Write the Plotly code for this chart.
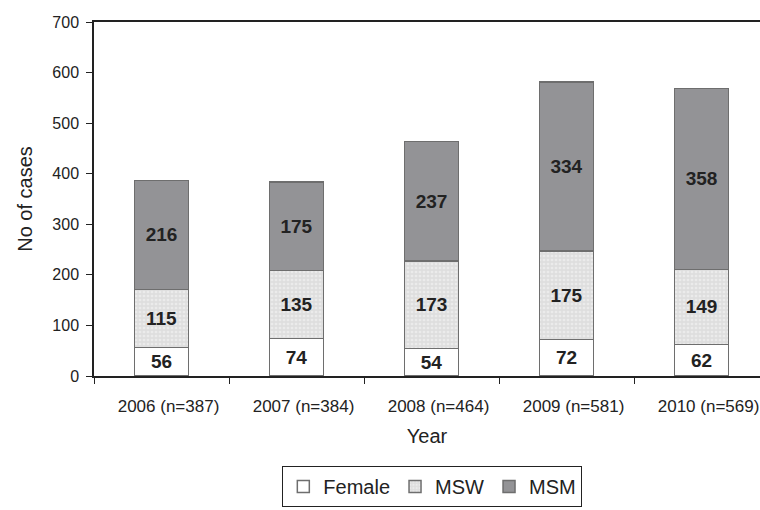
import plotly.graph_objects as go

categories = ["2006 (n=387)", "2007 (n=384)", "2008 (n=464)", "2009 (n=581)", "2010 (n=569)"]
female = [56, 74, 54, 72, 62]
msw = [115, 135, 173, 175, 149]
msm = [216, 175, 237, 334, 358]

font = "Liberation Sans, Arial, sans-serif"
line_col = "#6e6e6e"
lab_font = dict(family=font, size=19, color="#222222")

fig = go.Figure()
fig.add_trace(go.Bar(
    name="Female", x=categories, y=female,
    marker=dict(color="white", line=dict(color=line_col, width=1.5)),
    text=female, textposition="inside", insidetextanchor="middle",
    texttemplate="<b>%{text}</b>", textfont=lab_font,
))
fig.add_trace(go.Bar(
    name="MSW", x=categories, y=msw,
    marker=dict(color="#dedede", line=dict(color=line_col, width=1.5),
                pattern=dict(shape=".", fgcolor="#f7f7f7", size=4, solidity=0.35)),
    text=msw, textposition="inside", insidetextanchor="middle",
    texttemplate="<b>%{text}</b>", textfont=lab_font,
))
fig.add_trace(go.Bar(
    name="MSM", x=categories, y=msm,
    marker=dict(color="#939396", line=dict(color=line_col, width=1.5)),
    text=msm, textposition="inside", insidetextanchor="middle",
    texttemplate="<b>%{text}</b>", textfont=lab_font,
))

fig.update_layout(
    barmode="stack",
    bargap=0.6,
    width=760, height=510,
    margin=dict(l=94, r=0, t=22, b=134),
    paper_bgcolor="white", plot_bgcolor="white",
    font=dict(family=font, color="#222222"),
    uniformtext=dict(minsize=19, mode="show"),
    showlegend=True,
    legend=dict(
        orientation="h", x=0.508, xanchor="center",
        yref="container", y=0.006, yanchor="bottom",
        bordercolor="#222222", borderwidth=1, font=dict(size=20, family=font),
        itemwidth=30, tracegroupgap=0, traceorder="normal",
    ),
    xaxis=dict(
        range=[-0.5, 4.433], showline=True, linecolor="#222222", linewidth=1.5,
        mirror=True, ticks="outside", tickson="boundaries", ticklen=6,
        tickcolor="#222222", tickfont=dict(size=17), showgrid=False,
        automargin=False, ticklabelstandoff=14, ticklabelshift=7,
        title=dict(text="Year", font=dict(size=20), standoff=14),
    ),
    yaxis=dict(
        range=[0, 700], dtick=100, showline=True, linecolor="#222222", linewidth=1.5,
        ticks="outside", ticklen=6, tickcolor="#222222", tickfont=dict(size=16),
        showgrid=False, zeroline=False, automargin=False, ticklabelstandoff=4,
        title=dict(text="No of cases", font=dict(size=20), standoff=14),
    ),
)

fig.write_html(
    "out.html",
    config={"displayModeBar": False},
    post_script="document.body.style.margin='0';document.body.style.overflow='hidden';",
)
